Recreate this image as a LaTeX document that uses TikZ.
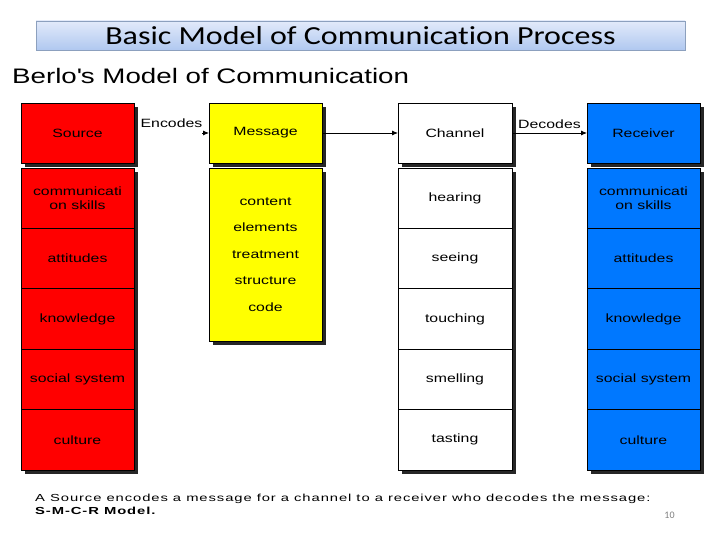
\documentclass[tikz,border=0pt]{standalone}
\usepackage{fontspec}
\setmainfont{Liberation Sans}
\newfontfamily\berlofont[FakeStretch=1.32]{Liberation Sans}
\newfontfamily\notefont[FakeStretch=1.45, LetterSpace=9]{Liberation Sans}
\newfontfamily\slidefont[FakeStretch=1.23, Ligatures=NoCommon]{Carlito}
\newfontfamily\pagefont{Carlito}
\usetikzlibrary{arrows.meta,positioning,shadows}
\definecolor{SrcRed}{RGB}{255,0,0}
\definecolor{MsgYellow}{RGB}{255,255,0}
\definecolor{RcvBlue}{RGB}{0,120,255}
\definecolor{TitleTop}{RGB}{226,234,250}
\definecolor{TitleBottom}{RGB}{176,200,240}
\definecolor{TitleEdge}{RGB}{140,160,190}
\tikzset{
  cell/.style={rectangle, draw=black, line width=0.8pt, outer sep=0pt,
    minimum width=113pt, minimum height=60.4pt, inner sep=1pt, align=center,
    font=\berlofont\fontsize{12}{13.5}\selectfont},
  dropshade/.style={drop shadow={shadow xshift=4pt, shadow yshift=-4pt, fill=black, opacity=0.85}},
  redcell/.style={cell, dropshade, fill=SrcRed},
  yellowcell/.style={cell, dropshade, fill=MsgYellow},
  whitecell/.style={cell, dropshade, fill=white},
  bluecell/.style={cell, dropshade, fill=RcvBlue},
  arrow/.style={-{Latex[length=6pt,width=5pt]}, line width=0.8pt, draw=black}
}
\begin{document}
\begin{tikzpicture}[x=1pt, y=-1pt, node distance=75pt]
  \useasboundingbox (0,0) rectangle (720,540);
  % slide heading
  \node[rectangle, draw=TitleEdge, line width=0.8pt, top color=TitleTop, bottom color=TitleBottom,
    minimum width=649pt, minimum height=29pt, inner sep=0pt,
    font=\slidefont\fontsize{26}{30}\selectfont] (title) at (360.5,35.5) {Basic Model of Communication Process};
  \node[anchor=west, inner sep=0pt, font=\berlofont\fontsize{21}{24}\selectfont] (berlo) at (12,76)
    {Berlo\textquotesingle s Model of Communication};
  % header row
  \node[redcell, minimum height=60pt] (src) at (77.5,133) {Source};
  \node[yellowcell, minimum height=60pt, right=of src] (msg) {Message};
  \node[whitecell, minimum height=60pt, minimum width=114pt, right=76pt of msg] (chn) {Channel};
  \node[bluecell, minimum height=60pt, right=of chn] (rcv) {Receiver};
  % source column
  \node[redcell, below=5pt of src] (srcA) {communicati\\on skills};
  \node[redcell, below=0pt of srcA] (srcB) {attitudes};
  \node[redcell, below=0pt of srcB] (srcC) {knowledge};
  \node[redcell, below=0pt of srcC] (srcD) {social system};
  \node[redcell, below=0pt of srcD] (srcE) {culture};
  % message column
  \node[yellowcell, minimum height=173pt, below=5pt of msg,
    font=\berlofont\fontsize{12}{26.5}\selectfont] (msgA) {content\\elements\\treatment\\structure\\code};
  % channel column
  \node[whitecell, minimum width=114pt, below=5pt of chn] (chnA) {hearing};
  \node[whitecell, minimum width=114pt, below=0pt of chnA] (chnB) {seeing};
  \node[whitecell, minimum width=114pt, below=0pt of chnB] (chnC) {touching};
  \node[whitecell, minimum width=114pt, below=0pt of chnC] (chnD) {smelling};
  \node[whitecell, minimum width=114pt, below=0pt of chnD] (chnE) {tasting};
  % receiver column
  \node[bluecell, below=5pt of rcv] (rcvA) {communicati\\on skills};
  \node[bluecell, below=0pt of rcvA] (rcvB) {attitudes};
  \node[bluecell, below=0pt of rcvB] (rcvC) {knowledge};
  \node[bluecell, below=0pt of rcvC] (rcvD) {social system};
  \node[bluecell, below=0pt of rcvD] (rcvE) {culture};
  % connectors
  \draw[arrow, shorten <=68pt] (src) -- node[above=2pt, font=\berlofont\fontsize{12}{13}\selectfont] (enc) {Encodes} (msg);
  \draw[arrow] (msg) -- (chn);
  \draw[arrow] (chn) -- node[above=1pt, font=\berlofont\fontsize{12}{13}\selectfont] (dec) {Decodes} (rcv);
  % footnote
  \node[anchor=north west, align=left, inner sep=0pt, font=\notefont\fontsize{10.2}{13}\selectfont] (caption) at (35,494)
    {A Source encodes a message for a channel to a receiver who decodes the message:\\\textbf{S-M-C-R Model.}};
  \node[text=gray, font=\pagefont\fontsize{10}{12}\selectfont] (pgnum) at (669.5,515) {10};
\end{tikzpicture}
\end{document}
